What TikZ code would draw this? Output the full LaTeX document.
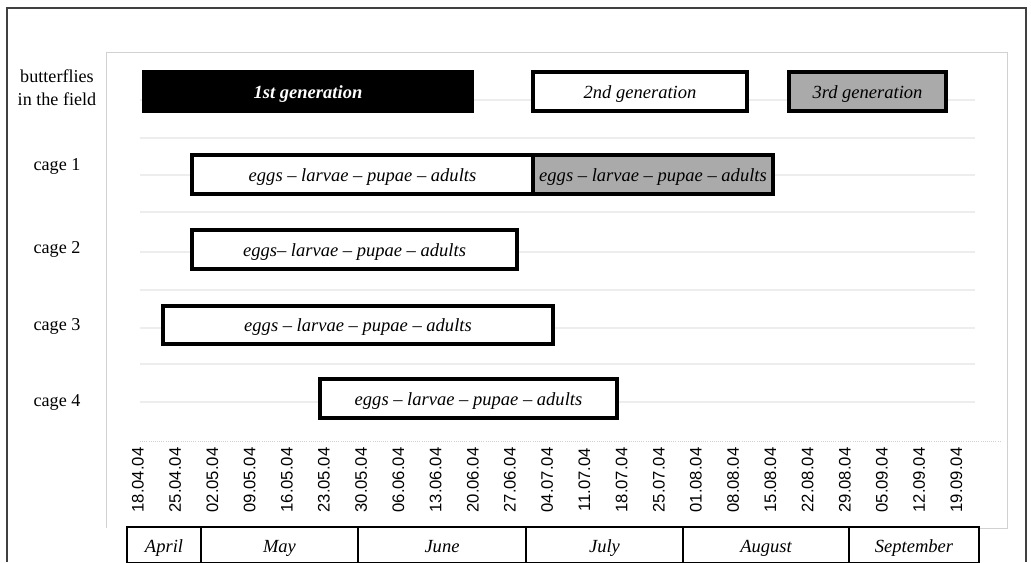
\documentclass[tikz,border=0pt]{standalone}
\usepackage{fontspec}
\setmainfont{Liberation Serif}
\newfontfamily\datefont{Liberation Sans}
\usetikzlibrary{fit}
\definecolor{bargray}{RGB}{170,170,170}
\tikzset{
  frameline/.style={draw=black!75, line width=1pt},
  plotline/.style={draw=black!18, line width=0.6pt},
  gridline/.style={draw=black!7, line width=0.8pt},
  bar/.style={draw=black, line width=2.4pt, inner sep=0pt},
  bartext/.style={font=\fontsize{13.9}{16}\selectfont\itshape, inner sep=0pt, anchor=base},
  rowlabel/.style={font=\fontsize{13.6}{17}\selectfont, align=center},
  datelabel/.style={rotate=90, font=\datefont\fontsize{12.5}{14}\selectfont, inner sep=0pt},
  monthcell/.style={draw=black, line width=0.9pt, inner sep=0pt},
  monthtext/.style={font=\fontsize{13.9}{16}\selectfont\itshape, inner sep=0pt, anchor=base},
}
\begin{document}
\begin{tikzpicture}[x=0.75pt, y=-0.75pt]
\useasboundingbox (0,0) rectangle (1031,562);
% outer frame
\draw[frameline] (7,562) -- (7,8) -- (1026,8) -- (1026,562);
% inner plot area
\draw[plotline] (106,528) -- (106,52) -- (1007,52) -- (1007,528) -- (979,528);
% faint grid lines
\foreach \yy in {100,138,175,212,252,290,328,364,402}
  \draw[gridline] (140,\yy) -- (975,\yy);
\draw[plotline, densely dotted] (140,441) -- (1000,441);
% row labels
\node[rowlabel] (lbf) at (57,88) {butterflies\\in the field};
\node[rowlabel] (lc1) at (57,166) {cage 1};
\node[rowlabel] (lc2) at (57,249) {cage 2};
\node[rowlabel] (lc3) at (57,326) {cage 3};
\node[rowlabel] (lc4) at (57,402) {cage 4};
% generation bars
\node[bar, fill=black, fit={(144,72) (472,111)}] (g1) {};
\node[bartext, text=white, font=\fontsize{13.9}{16}\selectfont\bfseries\itshape] (t1) at ([yshift=-5pt]g1.center) {1st generation};
\node[bar, fill=white, fit={(533,72) (747,111)}] (g2) {};
\node[bartext] (t2) at ([yshift=-5pt]g2.center) {2nd generation};
\node[bar, fill=bargray, fit={(789,72) (946,111)}] (g3) {};
\node[bartext] (t3) at ([yshift=-5pt]g3.center) {3rd generation};
% cage bars
\node[bar, fill=white, fit={(192,155) (533,194)}] (c1a) {};
\node[bartext] (tc1a) at ([yshift=-5pt]c1a.center) {eggs -- larvae -- pupae -- adults};
\node[bar, fill=bargray, fit={(533,155) (773,194)}] (c1b) {};
\node[bartext] (tc1b) at ([yshift=-5pt]c1b.center) {eggs -- larvae -- pupae -- adults};
\node[bar, fill=white, fit={(192,230) (517,269)}] (c2) {};
\node[bartext] (tc2) at ([yshift=-5pt]c2.center) {eggs-- larvae -- pupae -- adults};
\node[bar, fill=white, fit={(163,306) (553,344)}] (c3) {};
\node[bartext] (tc3) at ([yshift=-5pt]c3.center) {eggs -- larvae -- pupae -- adults};
\node[bar, fill=white, fit={(320,379) (617,418)}] (c4) {};
\node[bartext] (tc4) at ([yshift=-5pt]c4.center) {eggs -- larvae -- pupae -- adults};
% dates
\foreach [count=\i from 0] \d in {18.04.04,25.04.04,02.05.04,09.05.04,16.05.04,23.05.04,30.05.04,06.06.04,13.06.04,20.06.04,27.06.04,04.07.04,11.07.04,18.07.04,25.07.04,01.08.04,08.08.04,15.08.04,22.08.04,29.08.04,05.09.04,12.09.04,19.09.04}
  \node[datelabel] (d\i) at ({138+37.2*\i},480) {\d};
% months
\node[monthcell, fit={(127,527) (201,563)}] (mApr) {};
\node[monthtext] (tApr) at (164,552) {April};
\node[monthcell, fit={(201,527) (358,563)}] (mMay) {};
\node[monthtext] (tMay) at (279.5,552) {May};
\node[monthcell, fit={(358,527) (526,563)}] (mJun) {};
\node[monthtext] (tJun) at (442,552) {June};
\node[monthcell, fit={(526,527) (683,563)}] (mJul) {};
\node[monthtext] (tJul) at (604.5,552) {July};
\node[monthcell, fit={(683,527) (849,563)}] (mAug) {};
\node[monthtext] (tAug) at (766,552) {August};
\node[monthcell, fit={(849,527) (979,563)}] (mSep) {};
\node[monthtext] (tSep) at (914,552) {September};
\end{tikzpicture}
\end{document}
